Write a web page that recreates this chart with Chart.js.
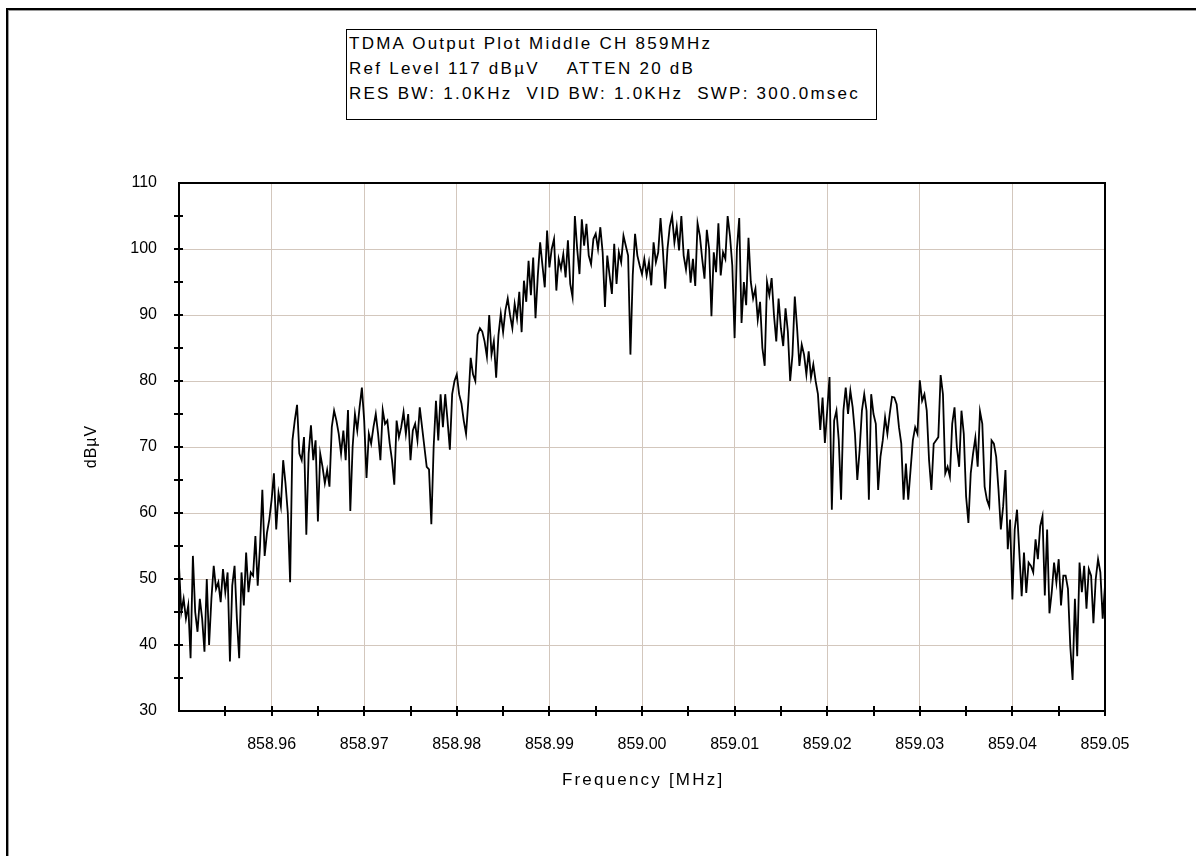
<!DOCTYPE html>
<html>
<head>
<meta charset="utf-8">
<script src="https://cdn.jsdelivr.net/npm/chart.js@4.4.1/dist/chart.umd.min.js"></script>
<style>
  html, body { margin: 0; padding: 0; background: #fff; }
  #wrap { position: relative; width: 1196px; height: 856px; overflow: hidden; }
  #frame { position: absolute; left: 6px; top: 8px; width: 1190px; height: 848px;
           border-left: 2px solid #000; border-top: 2px solid #000;
           box-shadow: inset 1px 1px 0 #9a9a9a; box-sizing: border-box; }
  #plot { position: absolute; left: 0; top: 0; }
  #header { position: absolute; left: 346px; top: 29px; width: 531px; height: 91px;
            border: 1px solid #000; box-sizing: border-box; background: #fff;
            font-family: 'Liberation Sans', Arial, sans-serif; font-size: 17px;
            letter-spacing: 2.25px; line-height: 25px; padding: 1px 0 0 2px; white-space: pre; color: #000; }
</style>
</head>
<body>
<div id="wrap">
  <div id="frame"></div>
  <canvas id="plot" width="1196" height="856"></canvas>
  <div id="header"></div>
</div>
<script>
const HEADER_LINES = [
    'TDMA Output Plot Middle CH 859MHz',
    'Ref Level 117 dBµV    ATTEN 20 dB',
    'RES BW: 1.0KHz  VID BW: 1.0KHz  SWP: 300.0msec'
];
const X_TITLE = 'Frequency [MHz]';
const Y_TITLE = 'dBµV';

// sweep: first point and spacing, in MHz
const START_MHZ = 858.95;
const STEP_MHZ = 0.00025;

// trace levels, dBµV
const LEVELS_DBUV = [
    52, 45, 47, 44, 46, 38, 53.5, 45, 42, 47,
    44, 39, 50, 40, 47, 52, 48.5, 49.5, 46.5, 51.5,
    48, 51, 37.5, 49, 52, 44, 38, 51, 46, 54,
    48, 51, 50.5, 56.5, 49, 55, 63.5, 53.5, 57, 59,
    62, 66, 57.5, 63, 61, 68, 64.5, 60, 49.5, 71,
    74, 76.4, 69, 68, 71.5, 56.7, 69, 73.3, 68, 71,
    58.7, 69, 67, 64.5, 66.5, 64, 73, 75.5,
    74, 72, 69, 72.5, 68, 75.6, 60.3, 70, 75, 72.5,
    76, 79, 74, 65.3, 72, 70.5, 73, 75, 72, 68,
    75.6, 73.5, 74, 70.6, 68, 64.3, 74, 71.5, 73, 75.3,
    72, 75, 68, 72.5, 73.5, 71, 76, 73, 70, 67,
    66.6, 58.3, 70, 77, 71, 78, 73, 78, 74, 69.6,
    78, 80, 81, 78, 76.6, 74, 72, 77, 83.5, 81,
    80, 87, 88, 87.5, 86, 83.7, 90,
    84, 86, 80.5, 87, 90.2, 87.4, 90.7, 92.5, 90, 88,
    91.7, 89.5, 93.5, 87.4, 95.2, 92, 98.2, 93, 98.7, 89.5,
    96, 101, 97.5, 94.2, 102.8, 97.2, 100, 101.5, 93.7, 98.5,
    97, 99.2, 95.7, 101.3, 94.7, 92.7, 105, 100, 96.2, 104.5,
    100.5, 103.8, 99, 97.7, 101.5, 102.3, 100, 103.3, 99.5, 91.2,
    99, 96, 93.2, 100.8, 94.7, 99.5, 98, 102, 100.5, 99,
    84, 96, 102.3, 99, 97.5, 96.2, 98.5,
    96, 98, 94.5, 101, 98, 99.5, 104.7, 100, 94, 100,
    103.4, 105, 101, 103.4, 99.8, 105, 99, 96.9, 100, 94.9,
    98.5, 94.4, 103.9, 102, 98.5, 95.5, 102.9, 100, 89.8, 99.5,
    96.5, 103.9, 96, 99.5, 98.5, 105, 102, 97.5, 86.5, 100,
    104.7, 88.8, 95, 91.5, 101.7, 95, 92.5, 94, 89.3, 92,
    85, 82.3, 95, 93, 95.6, 90, 86, 92.5, 88, 85.3,
    91, 87.5, 80, 84, 92.8, 88, 82.3,
    85.5, 84, 81, 84.5, 80.5, 82.5, 80, 78, 72.6, 77.5,
    70.6, 75.5, 80.6, 60.5, 74, 75.5, 71, 62, 75.5, 79,
    75, 78.5, 76, 72, 65, 69.5, 75.5, 78, 75.5, 62,
    78, 75, 73.5, 63.5, 68.5, 71, 74.5, 72, 75, 77.6,
    77.5, 76.5, 73, 70.5, 62, 67.5, 62, 66.5, 71, 73,
    72, 80.1, 77, 78, 75.5, 68, 63.5, 70.5, 71, 71.5,
    80.9, 78, 66, 67, 65.5, 73.5,
    76, 70, 67, 75.5, 72, 62.5, 58.5, 66, 69, 71.4,
    67, 75.4, 73.5, 64, 62, 61, 71, 70.5, 68.5, 63.5,
    57.5, 61, 66.5, 54.5, 59, 46.9, 57.5, 60.5, 54, 47.4,
    54, 47.9, 52.5, 52, 51, 56, 53, 58, 59.5, 47.5,
    57.5, 44.8, 48, 52.5, 49.5, 53, 46, 50.5, 50.5, 48.5,
    39.8, 34.7, 47, 38.3, 52.5, 48, 52, 45.5, 51.5, 50.5,
    43.3, 50, 53, 51, 44, 49
];

const FREQ_TICKS = [858.96, 858.97, 858.98, 858.99, 859.00, 859.01, 859.02, 859.03, 859.04, 859.05];
const LEVEL_TICKS = [30, 40, 50, 60, 70, 80, 90, 100, 110];
const FREQ_MINOR = 0.005;
const LEVEL_MINOR = 5;

document.getElementById('header').textContent = HEADER_LINES.join('\n');

const points = LEVELS_DBUV.map((v, i) => ({ x: START_MHZ + i * STEP_MHZ, y: v }));

const FONT = "'Liberation Sans', Arial, sans-serif";
const GRID = '#d3c7bd';

// plot frame, tick marks crossing the axes, and the spaced-out axis titles
const axisDecor = {
    id: 'axisDecor',
    afterDraw(chart) {
        const { ctx, chartArea: a, scales: { x, y } } = chart;
        ctx.save();
        ctx.strokeStyle = '#000';
        ctx.lineWidth = 2;
        ctx.strokeRect(a.left, a.top, a.right - a.left, a.bottom - a.top);
        ctx.beginPath();
        const ny = Math.round((y.max - y.min) / LEVEL_MINOR);
        for (let k = 1; k < ny; k++) {
            const py = Math.round(y.getPixelForValue(y.min + k * LEVEL_MINOR));
            ctx.moveTo(a.left - 5, py);
            ctx.lineTo(a.left + 4, py);
        }
        const nx = Math.round((x.max - x.min) / FREQ_MINOR);
        for (let k = 1; k <= nx; k++) {
            const px = Math.round(x.getPixelForValue(x.min + k * FREQ_MINOR));
            ctx.moveTo(px, a.bottom - 5);
            ctx.lineTo(px, a.bottom + 5);
        }
        ctx.stroke();

        ctx.fillStyle = '#000';
        ctx.textAlign = 'center';
        ctx.textBaseline = 'middle';
        ctx.font = '17px ' + FONT;
        ctx.letterSpacing = '2.2px';
        ctx.fillText(X_TITLE, (a.left + a.right) / 2 + 1.1, 780);
        ctx.font = '16px ' + FONT;
        ctx.letterSpacing = '1px';
        ctx.translate(92, (a.top + a.bottom) / 2);
        ctx.rotate(-Math.PI / 2);
        ctx.fillText(Y_TITLE, 0.5, 0);
        ctx.restore();
    }
};

new Chart(document.getElementById('plot').getContext('2d'), {
    type: 'line',
    data: {
        datasets: [{
            data: points,
            borderColor: '#000',
            borderWidth: 1.8,
            pointRadius: 0,
            tension: 0,
            fill: false
        }]
    },
    options: {
        responsive: false,
        animation: false,
        events: [],
        layout: { padding: { left: 0, top: 183, right: 91, bottom: 61 } },
        plugins: { legend: { display: false }, tooltip: { enabled: false } },
        scales: {
            x: {
                type: 'linear',
                min: 858.95,
                max: 859.05,
                afterBuildTicks: s => { s.ticks = FREQ_TICKS.map(v => ({ value: v })); },
                afterFit: s => { s.height = 84; },
                grid: { color: GRID, lineWidth: 1, drawTicks: false },
                border: { display: false },
                ticks: {
                    padding: 24,
                    color: '#000',
                    maxRotation: 0,
                    autoSkip: false,
                    font: { family: FONT, size: 16 },
                    callback: v => Number(v).toFixed(2)
                }
            },
            y: {
                min: 30,
                max: 110,
                afterBuildTicks: s => { s.ticks = LEVEL_TICKS.map(v => ({ value: v })); },
                afterFit: s => { s.width = 179; },
                grid: { color: GRID, lineWidth: 1, drawTicks: false },
                border: { display: false },
                ticks: {
                    padding: 22,
                    color: '#000',
                    font: { family: FONT, size: 16 }
                }
            }
        }
    },
    plugins: [axisDecor]
});
</script>
</body>
</html>
